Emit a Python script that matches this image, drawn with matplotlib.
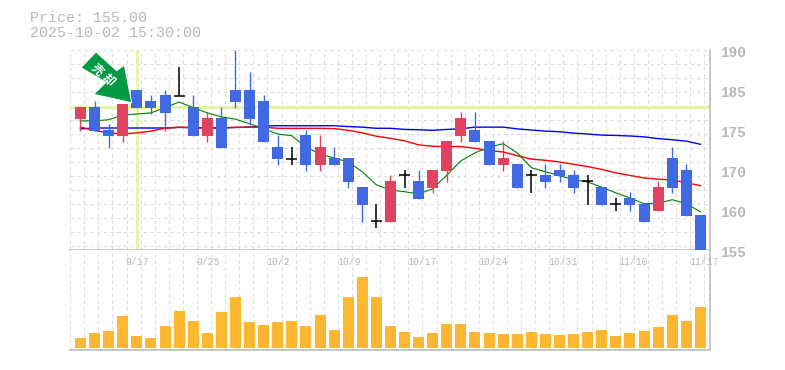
import numpy as np
import matplotlib
matplotlib.use('Agg')
import matplotlib.pyplot as plt
from matplotlib.patches import Polygon
from matplotlib.transforms import IdentityTransform

plt.rcParams['font.family'] = ['Liberation Mono', 'DejaVu Sans Mono']

# price data
opens = [177.9, 180.0, 176.0, 174.95, 183.0, 181.1, 182.1, 182.0, 180.0, 175.0,
         178.1, 183.0, 183.0, 181.1, 173.0, 171.0, 175.1, 169.9, 171.1, 171.1,
         166.0, 160.0, 159.9, 168.1, 167.1, 165.9, 168.8, 175.0, 176.0, 174.1,
         169.9, 170.1, 168.1, 168.1, 169.0, 168.1, 167.1, 166.0, 163.0, 164.1,
         163.0, 161.8, 171.1, 169.0, 161.1]
highs = [180.0, 181.1, 177.05, 180.6, 183.0, 182.1, 183.0, 187.0, 182.1, 179.2,
         180.0, 190.0, 186.2, 182.1, 175.1, 173.0, 176.0, 175.1, 173.0, 171.1,
         166.0, 163.0, 168.1, 169.0, 169.0, 169.0, 174.1, 179.2, 179.2, 174.1,
         174.1, 170.1, 169.0, 170.1, 170.1, 169.0, 168.1, 166.0, 164.1, 165.1,
         163.0, 167.1, 173.0, 170.1, 161.1]
lows = [175.8, 175.8, 172.85, 173.9, 179.9, 178.8, 175.8, 182.0, 175.0, 173.9,
        172.85, 179.9, 176.9, 173.9, 169.9, 169.9, 168.8, 168.8, 169.9, 165.9,
        159.9, 158.9, 159.9, 165.9, 163.9, 165.0, 166.9, 173.9, 173.9, 169.9,
        168.8, 165.9, 165.0, 165.9, 166.9, 165.0, 162.9, 162.9, 161.8, 161.8,
        159.9, 161.8, 165.0, 161.0, 155.0]
closes = [180.0, 175.8, 174.95, 180.6, 179.9, 179.9, 179.0, 182.0, 175.0, 178.1,
          172.85, 180.9, 177.9, 173.9, 170.9, 171.0, 169.9, 173.0, 169.9, 166.9,
          162.9, 160.0, 167.1, 168.1, 163.9, 169.0, 174.1, 178.1, 173.9, 169.9,
          171.1, 165.9, 168.1, 166.9, 168.0, 165.9, 167.1, 162.9, 163.0, 162.9,
          159.9, 166.0, 165.9, 161.0, 155.0]

ma_green = [177.6, 177.6, 177.8, 178.6, 178.8, 179.0, 179.9, 180.9, 179.9, 179.0,
            178.3, 177.9, 177.1, 176.2, 175.3, 175.0, 173.0, 171.8, 171.1, 170.4,
            168.7, 166.4, 165.5, 165.2, 164.8, 165.7, 168.1, 170.6, 172.0, 173.0,
            173.6, 172.0, 169.4, 168.7, 168.0, 167.3, 166.9, 166.0, 165.0, 164.1,
            163.1, 163.2, 163.8, 163.1, 161.7]
ma_red = [176.5, 175.9, 175.5, 175.3, 175.5, 175.8, 176.3, 176.5, 176.35, 176.35,
          176.4, 176.45, 176.5, 176.5, 176.3, 176.3, 176.3, 176.3, 176.25, 175.95,
          175.5, 174.9, 174.55, 174.1, 173.4, 173.15, 173.1, 173.1, 172.8, 172.4,
          172.15, 171.5, 170.9, 170.7, 170.4, 170.0, 169.6, 169.1, 168.5, 168.05,
          167.6, 167.4, 167.25, 166.8, 166.25]
ma_blue = [176.2, 176.35, 176.35, 176.35, 176.35, 176.35, 176.35, 176.45, 176.45, 176.35,
           176.35, 176.45, 176.5, 176.7, 176.75, 176.75, 176.75, 176.75, 176.75, 176.6,
           176.5, 176.3, 176.3, 176.1, 176.05, 175.95, 176.1, 176.2, 176.5, 176.5,
           176.5, 176.2, 176.0, 175.8, 175.7, 175.45, 175.3, 175.1, 175.05, 174.95,
           174.8, 174.5, 174.3, 174.05, 173.5]

volumes = [10, 15, 17, 32, 12, 10, 22, 37, 27, 15, 36, 51, 26, 23, 26, 27, 22, 33, 18, 51,
           71, 51, 22, 16, 11, 15, 24, 24, 16, 15, 14, 14, 16, 14, 13, 14, 16, 18, 12, 15,
           17, 21, 33, 27, 41]

date_pos = [4, 9, 14, 19, 24, 29, 34, 39, 44]
date_labels = ['9/17', '9/25', '10/2', '10/9', '10/17', '10/24', '10/31', '11/10', '11/17']
price_ticks = [155, 162, 169, 176, 183, 190]
price_labels = ['155', '160', '170', '175', '185', '190']

BLUE = '#4169E1'
RED = '#E0435F'
GRAY = '#B8B8B8'
GRID = '#DDDDDD'
CROSS = '#E4F5A6'

W, H = 785, 370
fig = plt.figure(figsize=(W / 100, H / 100), dpi=100)
ax = fig.add_axes([70 / W, 1 - 250 / H, 640 / W, 200 / H])
ax2 = fig.add_axes([70 / W, 1 - 350 / H, 640 / W, 100 / H])

x = np.arange(len(opens))
xlim = (-0.745, 44.68)
grid_x = [xlim[0]] + list(x + 0.27)

for a in (ax, ax2):
    a.set_xlim(xlim)
    a.set_xticks(grid_x)
    a.tick_params(length=0, labelbottom=False, labelleft=False)
    a.grid(axis='x', color=GRID, linewidth=0.8, linestyle=(0, (3, 3)))
    a.set_axisbelow(True)
    a.spines['top'].set_visible(False)
    a.spines['left'].set_visible(False)
    a.spines['right'].set_color(GRAY)
    a.spines['bottom'].set_color(GRAY)
    a.spines['right'].set_linewidth(1.1)
    a.spines['bottom'].set_linewidth(1.1)

ax.set_ylim(155, 190)
ax.set_yticks(190 - 2.45 * np.arange(15))
ax.grid(axis='y', color=GRID, linewidth=0.8, linestyle=(0, (3, 3)))

# crosshair
ax.axhline(180.0, color=CROSS, linewidth=2.2, zorder=1)
ax.axvline(4, color=CROSS, linewidth=2.0, zorder=1)

# moving averages
ax.plot(x, ma_blue, color='#0000FF', linewidth=1.0, zorder=2)
ax.plot(x, ma_red, color='#FF0000', linewidth=1.0, zorder=2)
ax.plot(x, ma_green, color='#008000', linewidth=0.8, zorder=2)

# candles
for i in x:
    o, h, l, c = opens[i], highs[i], lows[i], closes[i]
    if o == c:
        ax.vlines(i, l, h, color='black', linewidth=1.1, zorder=3)
        ax.hlines(c, i - 0.39, i + 0.39, color='black', linewidth=1.1, zorder=3)
        continue
    col = RED if c > o else BLUE
    ax.vlines(i, l, h, color=col, linewidth=1.0, zorder=3)
    ax.bar(i, abs(c - o), bottom=min(o, c), width=0.78, color=col, zorder=3)

# volume
ax2.bar(x, volumes, width=0.78, color='#FFB732', zorder=3)
ax2.set_ylim(-2, 98)
ax2.set_yticks([])

# labels
for i, label in zip(date_pos, date_labels):
    ax2.annotate(label, (i, 1), xycoords=('data', 'axes fraction'),
                 xytext=(-8.1, -8.6), textcoords='offset points',
                 ha='left', va='center', fontsize=7, color=GRAY, annotation_clip=False)

for p, label in zip(price_ticks, price_labels):
    ax.annotate(label, (1, p), xycoords=('axes fraction', 'data'),
                xytext=(7.2, -2.2), textcoords='offset points', fontweight='bold',
                ha='left', va='center', fontsize=10.4, color=GRAY, annotation_clip=False)

fig.text(30 / W, 1 - 18 / H, 'Price: 155.00', fontsize=10.8, color=GRAY, va='center')
fig.text(30 / W, 1 - 33 / H, '2025-10-02 15:30:00', fontsize=10.8, color=GRAY, va='center')

# arrow badge
arrow_px = [(81, 67.7), (96, 52), (116.7, 70.7), (124.3, 65), (131.7, 102.7), (93.7, 94.3), (106, 82.3)]
arrow_xy = [(px, H - py) for px, py in arrow_px]
fig.add_artist(Polygon(arrow_xy, closed=True, transform=IdentityTransform(),
                       facecolor='#009944', edgecolor='white', linewidth=0.7, zorder=5))
for px, py, ch in [(97.5, 70, '売'), (107.5, 80, '却')]:
    fig.text(px / W, 1 - py / H, ch, fontsize=8.5, color='white', rotation=-45, fontweight='bold',
             family=['Noto Sans CJK JP', 'DejaVu Sans'], ha='center', va='center', zorder=6)

fig.savefig('out.png', dpi=100)
